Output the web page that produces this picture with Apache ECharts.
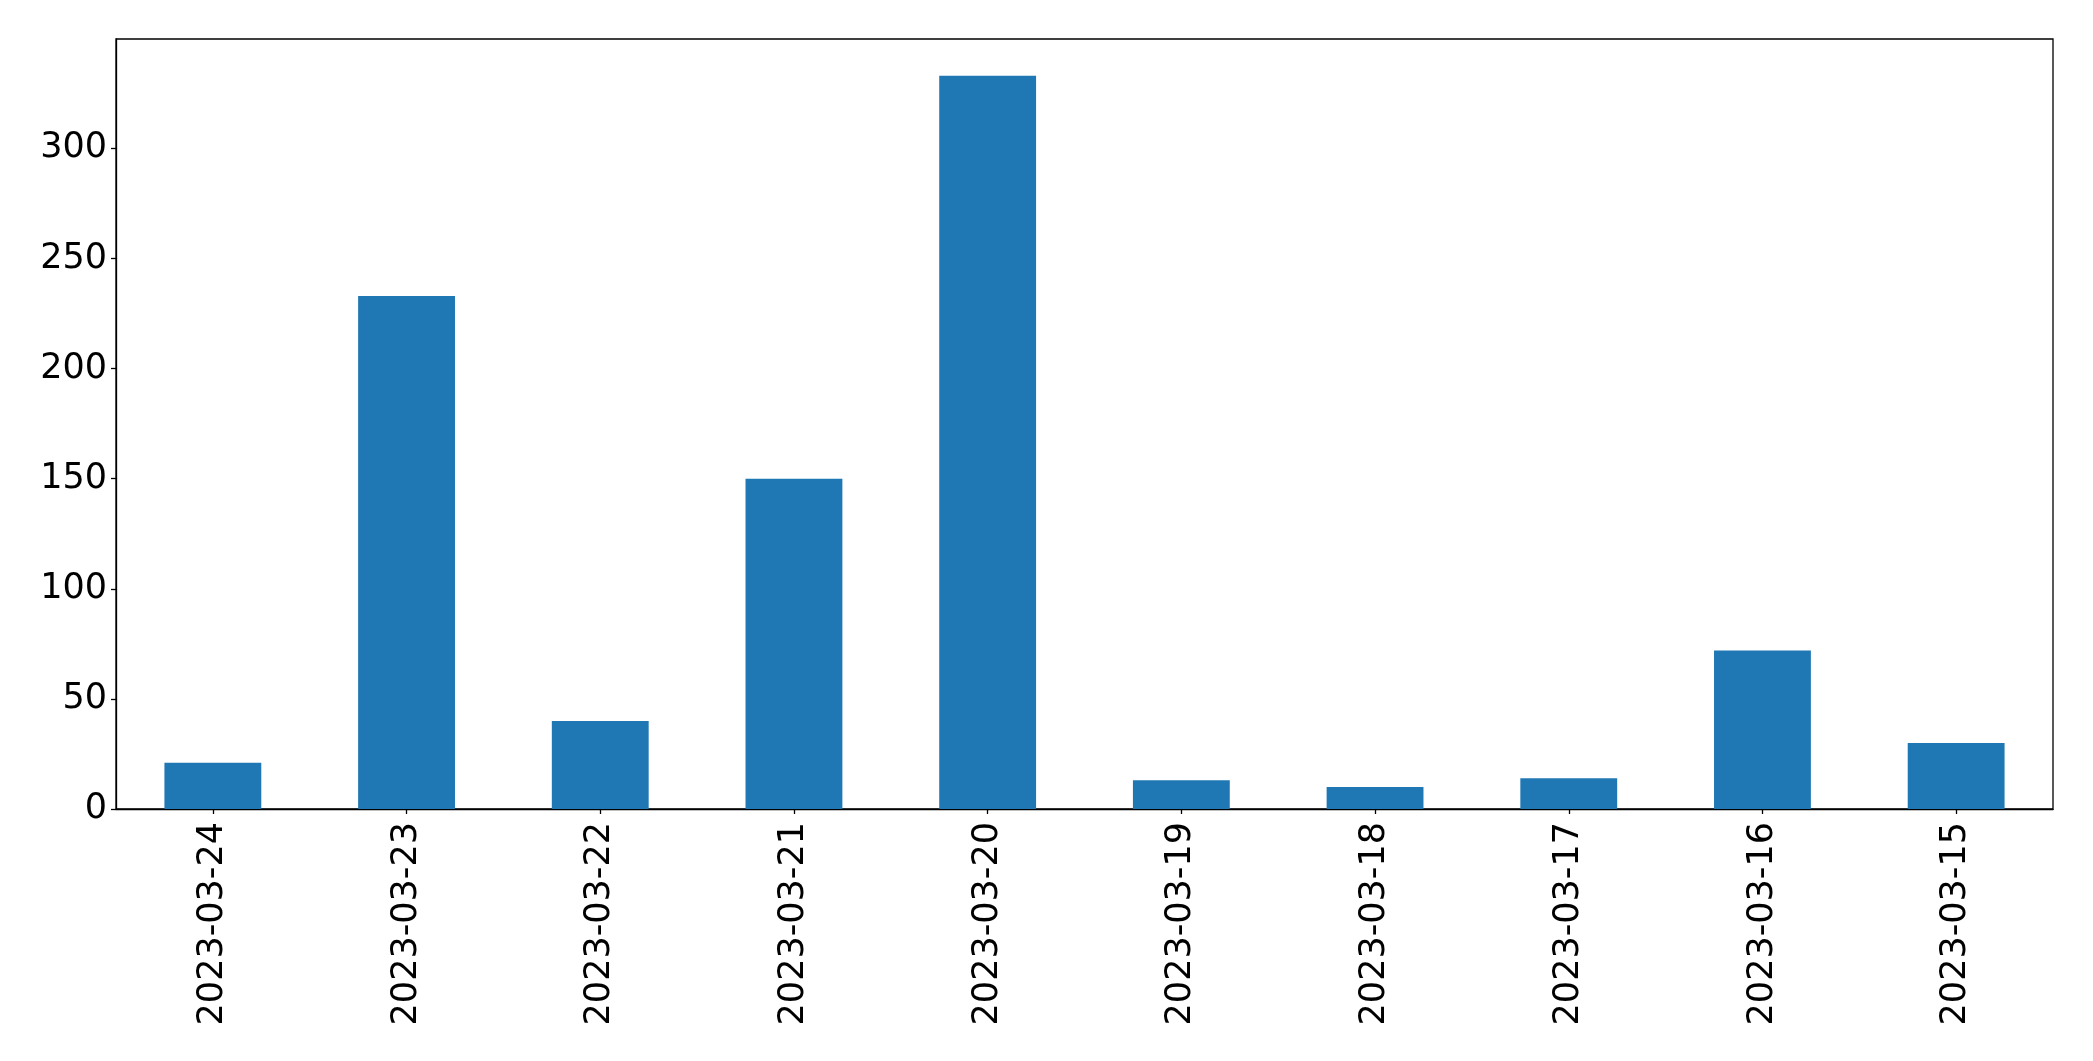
<!DOCTYPE html>
<html>
<head>
<meta charset="utf-8">
<script src="https://cdn.jsdelivr.net/npm/echarts@6/dist/echarts.min.js"></script>
<style>
html,body{margin:0;padding:0;background:#fff;}
#chart{width:2093px;height:1061px;}
</style>
</head>
<body>
<div id="chart"></div>
<script>
const categories = ['2023-03-24','2023-03-23','2023-03-22','2023-03-21','2023-03-20','2023-03-19','2023-03-18','2023-03-17','2023-03-16','2023-03-15'];
const values = [21, 233, 40, 150, 333, 13, 10, 14, 72, 30];
const yTicks = [0, 50, 100, 150, 200, 250, 300];
const yMax = 349.65;

const chart = echarts.init(document.getElementById('chart'), null, {renderer: 'canvas'});
const font = 'DejaVu Sans';
chart.setOption({
  animation: false,
  backgroundColor: '#ffffff',
  grid: {
    left: 116, right: 40, top: 39, bottom: 252,
    show: true, borderColor: '#000000', borderWidth: 1.3,
    containLabel: false
  },
  xAxis: {
    type: 'category',
    data: categories,
    boundaryGap: true,
    axisLine: {show: true, lineStyle: {color: '#000', width: 1.3}},
    axisTick: {show: true, alignWithLabel: true, length: 5, lineStyle: {color: '#000', width: 1.3}},
    axisLabel: {rotate: 90, fontSize: 35, fontFamily: font, color: '#000', margin: 13, interval: 0},
    splitLine: {show: false}
  },
  yAxis: {
    type: 'value',
    min: 0,
    max: yMax,
    axisLine: {show: true, lineStyle: {color: '#000', width: 1.3}},
    axisTick: {show: true, length: 5, lineStyle: {color: '#000', width: 1.3}, customValues: yTicks},
    axisLabel: {fontSize: 35, fontFamily: font, color: '#000', margin: 9, customValues: yTicks},
    splitLine: {show: false}
  },
  series: [{
    type: 'bar',
    data: values,
    barWidth: '50%',
    itemStyle: {color: '#1f77b4'}
  }]
});
</script>
</body>
</html>
